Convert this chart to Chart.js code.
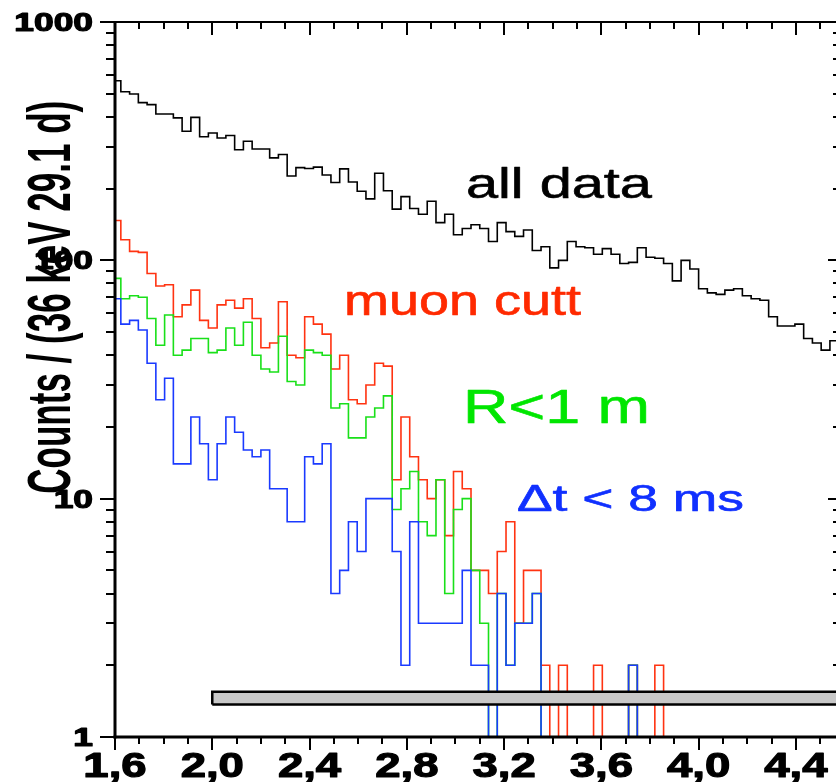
<!DOCTYPE html>
<html>
<head>
<meta charset="utf-8">
<script src="https://cdn.jsdelivr.net/npm/chart.js@4.4.1/dist/chart.umd.min.js"></script>
<style>
  html, body { margin: 0; padding: 0; background: #fff; }
  canvas { display: block; }
</style>
</head>
<body>
<canvas id="spectrum" width="836" height="782"></canvas>
<script>
// energy bins (MeV): 36 keV wide, first one starts just left of 1.6
const binStart = 1.588;
const binWidth = 0.036;

// counts per bin
const allData = [567, 510, 499, 459, 450, 411, 411, 396, 348, 398, 330, 342, 326, 334, 291, 316, 293, 293, 269, 278,
  226, 245, 243, 246, 228, 212, 242, 213, 195, 181, 232, 196, 164, 185, 165, 156, 177, 144, 156, 128,
  136, 141, 136, 120, 144, 132, 126, 134, 110, 114, 93, 100, 120, 114, 113, 106, 112, 106, 97, 98,
  113, 103, 102, 97, 82, 100, 92, 76, 73, 72, 75, 76, 71, 69, 68, 58, 53, 53, 54, 47, 45, 42, 46];
const muonCut = [147, 122, 109, 108, 88, 78, 79, 58, 65, 75, 56, 52, 65, 68, 63, 69, 57, 43, 45, 67,
  40, 39, 58, 54, 49, 35, 40, 26, 25, 30, 37, 36, 12, 22, 15, 12, 10, 12, 7, 13,
  11, 5, 5, 4, 6, 8, 3, 5, 5, 2, 1, 2, 1, 1, 1, 2, 1, 1, 1, 2,
  1, 1, 2, 1, 1, 1, 1, 1, 1, 1, 1, 1, 1, 1, 1, 1, 1, 1, 1, 1, 1, 1, 1];
const radiusCut = [84, 69, 71, 70, 57, 44, 59, 40, 42, 47, 47, 41, 42, 52, 44, 55, 40, 35, 34, 48,
  31, 30, 42, 41, 40, 24, 25, 18, 18, 22, 24, 27, 9, 11, 13, 8, 7, 12, 4, 9,
  10, 5, 3, 1, 4, 2, 3, 3, 4, 1, 1, 1, 1, 1, 1, 1, 1, 1, 1, 2,
  1, 1, 1, 1, 1, 1, 1, 1, 1, 1, 1, 1, 1, 1, 1, 1, 1, 1, 1, 1, 1, 1, 1];
const timeCut = [69, 54, 56, 51, 37, 26, 32, 14, 14, 22, 17, 12, 17, 22, 19, 16, 15, 16, 11, 11,
  8, 8, 15, 14, 17, 4, 5, 8, 6, 10, 10, 10, 6, 2, 8, 3, 3, 3, 3, 3,
  5, 2, 2, 1, 4, 2, 3, 3, 4, 1, 1, 1, 1, 1, 1, 1, 1, 1, 1, 2,
  1, 1, 1, 1, 1, 1, 1, 1, 1, 1, 1, 1, 1, 1, 1, 1, 1, 1, 1, 1, 1, 1, 1];

// grey band (energy range, count range)
const bandX = [2.0, 4.7];
const bandY = [1.37, 1.55];

// axis ticks
const xTickValues = [1.6, 2.0, 2.4, 2.8, 3.2, 3.6, 4.0, 4.4];
const xTickLabels = ['1,6', '2,0', '2,4', '2,8', '3,2', '3,6', '4,0', '4,4'];
const yTickValues = [1, 10, 100, 1000];
const yTickLabels = ['1', '10', '100', '1000'];

function histPoints(counts) {
  const pts = counts.map((c, i) => ({ x: binStart + i * binWidth, y: c }));
  pts.push({ x: binStart + counts.length * binWidth, y: counts[counts.length - 1] });
  return pts;
}

const FONT = '"Liberation Sans", Arial, sans-serif';

// text widened horizontally like the original scan; heavy = extra outline
function stretchText(ctx, str, px, py, font, color, align, sx, fitWidth, heavy) {
  ctx.save();
  ctx.font = font;
  if (fitWidth) sx = fitWidth / ctx.measureText(str).width;
  ctx.translate(px, py);
  ctx.scale(sx, 1);
  ctx.fillStyle = color;
  ctx.textAlign = align;
  ctx.textBaseline = 'alphabetic';
  ctx.fillText(str, 0, 0);
  if (heavy) {
    ctx.strokeStyle = color;
    ctx.lineWidth = heavy;
    ctx.lineJoin = 'round';
    ctx.strokeText(str, 0, 0);
  }
  ctx.restore();
}

const notes = [
  { text: 'all data', x: 3.043, y: 183, size: 42, width: 186, color: '#000000' },
  { text: 'muon cutt', x: 2.542, y: 59, size: 42, width: 237, color: '#ff2a00' },
  { text: 'R<1 m', x: 3.031, y: 20.8, size: 48, width: 187, color: '#00e600' },
  { text: '\u0394t < 8 ms', x: 3.253, y: 8.9, size: 36, width: 227, color: '#1030ff' }
];

const axisFrame = {
  id: 'axisFrame',
  afterDatasetsDraw(chart) {
    const { ctx, chartArea: area, scales: { x, y } } = chart;
    const seg = (x1, y1, x2, y2) => { ctx.beginPath(); ctx.moveTo(x1, y1); ctx.lineTo(x2, y2); ctx.stroke(); };
    ctx.save();
    ctx.strokeStyle = '#000';
    ctx.lineWidth = 2;

    // x ticks every 0.1, top and bottom
    for (let k = 0; k <= 29; k++) {
      const px = Math.round(x.getPixelForValue(1.6 + k * 0.1));
      const len = k % 4 === 0 ? 13 : 7;
      seg(px, area.bottom, px, area.bottom + len);
      seg(px, area.top, px, area.top + len);
    }
    // y ticks, log decades
    for (let d = 1; d <= 1000; d *= 10) {
      for (let m = 1; m <= 9; m++) {
        const v = m * d;
        if (v > 1000) break;
        const py = Math.round(y.getPixelForValue(v));
        const major = m === 1;
        seg(area.left, py, area.left - (major ? 15 : 9), py);
        seg(area.right, py, area.right - (major ? 8 : 3), py);
      }
    }
    // frame
    ctx.lineWidth = 3;
    seg(area.left, area.top - 1, area.left, area.bottom + 1.5);
    seg(area.left - 1.5, area.bottom, area.right, area.bottom);
    ctx.lineWidth = 2;
    seg(area.left, area.top, area.right, area.top);

    // tick labels
    xTickValues.forEach((v, i) => {
      stretchText(ctx, xTickLabels[i], x.getPixelForValue(v), area.bottom + 40,
        'bold 35px ' + FONT, '#000', 'center', 1.3, 0, 1.2);
    });
    yTickValues.forEach((v, i) => {
      stretchText(ctx, yTickLabels[i], area.left - 22, y.getPixelForValue(v) + 9,
        'bold 26px ' + FONT, '#000', 'right', 1.36, 0, 1.2);
    });

    // series labels
    notes.forEach(n => {
      stretchText(ctx, n.text, x.getPixelForValue(n.x), y.getPixelForValue(n.y),
        n.size + 'px ' + FONT, n.color, 'left', 1, n.width, 0.6);
    });

    // y axis title, rotated and widened
    ctx.save();
    ctx.translate(70, y.getPixelForValue(10) - 5);
    ctx.rotate(-Math.PI / 2);
    ctx.scale(1, 1.72);
    ctx.font = 'bold 35px ' + FONT;
    ctx.fillStyle = '#000';
    ctx.textAlign = 'left';
    ctx.textBaseline = 'alphabetic';
    ctx.fillText('Counts / (36 keV 29.1 d)', 0, 0);
    ctx.restore();

    ctx.restore();
  }
};

const histStyle = { stepped: 'before', pointRadius: 0, borderWidth: 1.6, fill: false };

new Chart(document.getElementById('spectrum'), {
  type: 'line',
  data: {
    datasets: [
      {
        label: 'band',
        data: [
          { x: bandX[0], y: bandY[0] }, { x: bandX[0], y: bandY[1] },
          { x: bandX[1], y: bandY[1] }, { x: bandX[1], y: bandY[0] },
          { x: bandX[0], y: bandY[0] }
        ],
        borderColor: '#000',
        borderWidth: 2.5,
        backgroundColor: '#c8c8c8',
        fill: 'shape',
        pointRadius: 0,
        order: 0
      },
      { label: 'all data', data: histPoints(allData), borderColor: '#000000', ...histStyle, order: 4 },
      { label: 'muon cutt', data: histPoints(muonCut), borderColor: '#ff3311', ...histStyle, order: 3 },
      { label: 'R<1 m', data: histPoints(radiusCut), borderColor: '#19e019', ...histStyle, order: 2 },
      { label: '\u0394t < 8 ms', data: histPoints(timeCut), borderColor: '#1a3aff', ...histStyle, order: 1 }
    ]
  },
  options: {
    responsive: false,
    devicePixelRatio: 1,
    animation: false,
    layout: { padding: { left: 115, top: 22, right: 0, bottom: 45 } },
    plugins: { legend: { display: false }, tooltip: { enabled: false } },
    scales: {
      x: { type: 'linear', display: false, min: 1.6, max: 4.565 },
      y: { type: 'logarithmic', display: false, min: 1, max: 1000 }
    }
  },
  plugins: [axisFrame]
});
</script>
</body>
</html>
